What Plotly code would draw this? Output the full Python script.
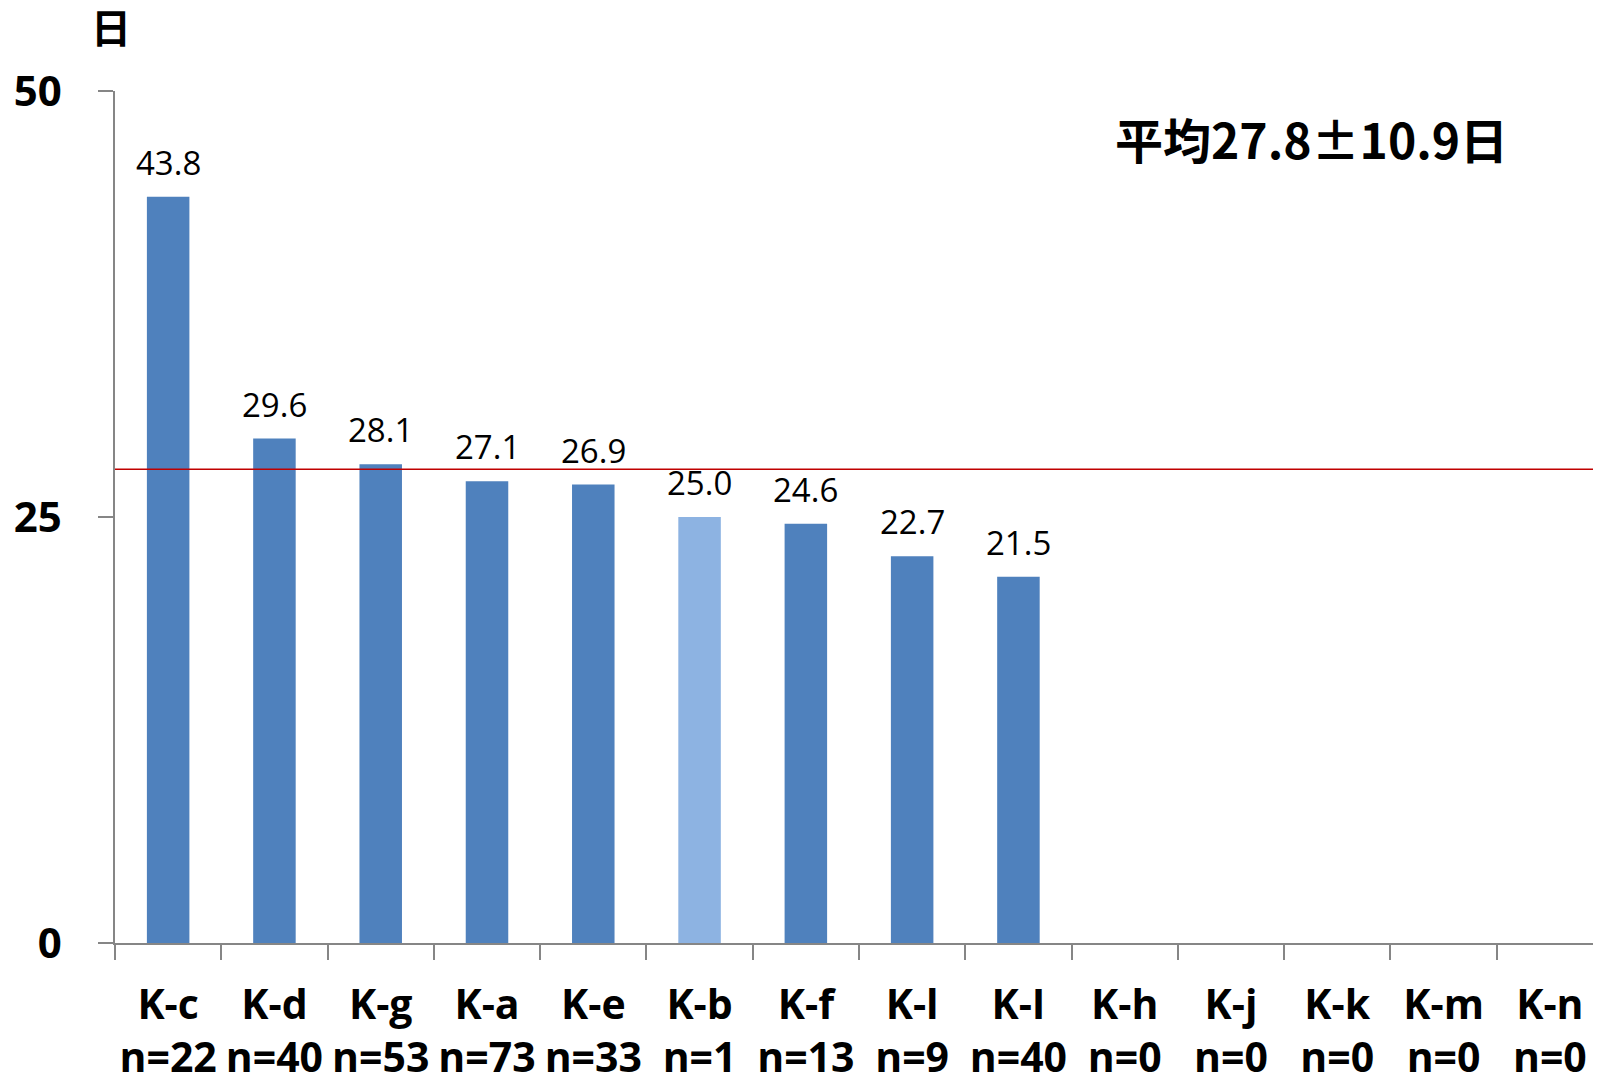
import plotly.graph_objects as go

# ---- data ----
sites = ["K-c", "K-d", "K-g", "K-a", "K-e", "K-b", "K-f", "K-l", "K-I",
         "K-h", "K-j", "K-k", "K-m", "K-n"]
counts = [22, 40, 53, 73, 33, 1, 13, 9, 40, 0, 0, 0, 0, 0]
days = [43.8, 29.6, 28.1, 27.1, 26.9, 25.0, 24.6, 22.7, 21.5,
        None, None, None, None, None]
mean_days = 27.8
sd_days = 10.9
highlight = "K-b"
y_ticks = [0, 25, 50]

# ---- style ----
BAR = "#4F81BD"
BAR_LIGHT = "#8DB3E2"
AXIS = "#868686"
CJK_FONT = "Noto Sans CJK JP, sans-serif"

tick_text = [f"<b>{s}<br>n={n}</b>" for s, n in zip(sites, counts)]
colors = [BAR_LIGHT if s == highlight else BAR for s in sites]

fig = go.Figure()
fig.add_trace(go.Bar(x=sites, y=days, marker=dict(color=colors, line=dict(width=0)),
                     width=0.4, showlegend=False))

# value labels above the bars
for s, v in zip(sites, days):
    if v is None:
        continue
    fig.add_annotation(x=s, y=v, text=f"{v:.1f}", showarrow=False,
                       yanchor="bottom", yshift=10,
                       font=dict(family="Open Sans, sans-serif", size=33, color="black"))

# mean line
fig.add_shape(type="line", xref="paper", x0=0, x1=1, yref="y", y0=mean_days, y1=mean_days,
              line=dict(color="#C00000", width=1.5))

fig.add_annotation(xref="paper", yref="paper", x=0.804, y=0.945,
                   xanchor="center", yanchor="middle",
                   text=f"<b>平均{mean_days}±{sd_days}日</b>", showarrow=False,
                   font=dict(family=CJK_FONT, size=48, color="black"))

fig.add_annotation(xref="paper", yref="paper", x=-0.003, y=1.076,
                   xanchor="center", yanchor="middle",
                   text="<b>日</b>", showarrow=False,
                   font=dict(family=CJK_FONT, size=40, color="black"))

# page body has an 8px margin, so margins are trimmed by 8
fig.update_layout(
    width=1601, height=1081,
    paper_bgcolor="white", plot_bgcolor="white",
    margin=dict(l=107, r=6, t=83, b=146, autoexpand=False),
    bargap=0.6,
)
fig.update_xaxes(
    type="category", range=[-0.5, len(sites) - 0.5], automargin=False,
    tickmode="array", tickvals=sites, ticktext=tick_text, tickangle=0,
    tickfont=dict(family="Open Sans, sans-serif", size=41, color="black"),
    showline=True, linecolor=AXIS, linewidth=1.5,
    ticks="outside", tickson="boundaries", ticklen=15, tickcolor=AXIS, tickwidth=1.5,
    ticklabelstandoff=25, showgrid=False,
)
fig.update_yaxes(
    range=[0, 50], tickvals=y_ticks, ticktext=[f"<b>{t}</b>" for t in y_ticks],
    automargin=False,
    tickfont=dict(family="Open Sans, sans-serif", size=42, color="black"),
    showline=True, linecolor=AXIS, linewidth=1.5,
    ticks="outside", ticklen=15, tickcolor=AXIS, tickwidth=1.5,
    ticklabelstandoff=28, showgrid=False, zeroline=False,
)

fig.write_html("out.html")
